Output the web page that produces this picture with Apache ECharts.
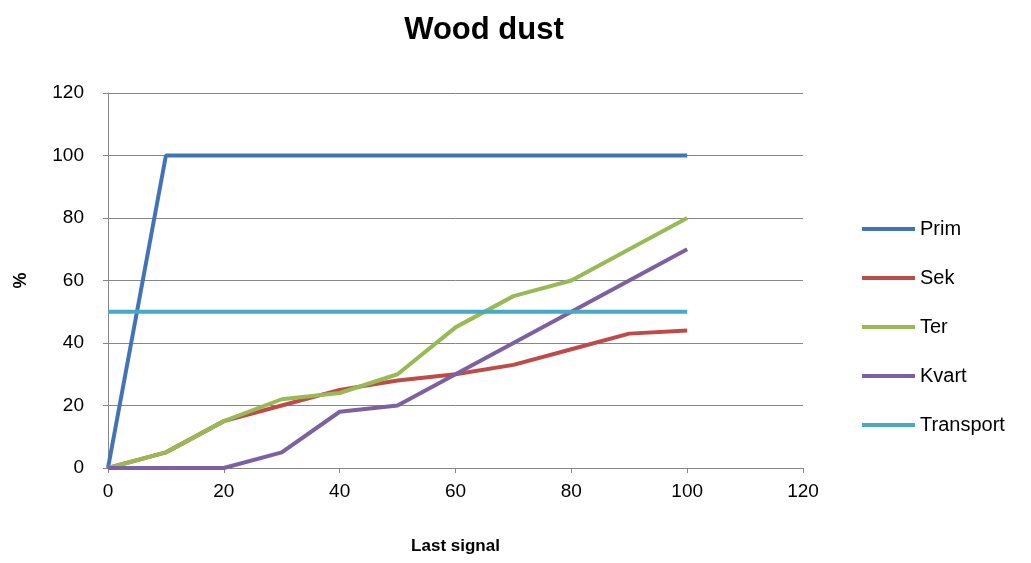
<!DOCTYPE html>
<html>
<head>
<meta charset="utf-8">
<script src="https://cdn.jsdelivr.net/npm/echarts@6/dist/echarts.min.js"></script>
<style>
  html, body { margin: 0; padding: 0; background: #fff; }
  #main { width: 1031px; height: 563px; }
</style>
</head>
<body>
<div id="main"></div>
<script>
// last signal (x) and share in % for each series
var xs = [0, 10, 20, 30, 40, 50, 60, 70, 80, 90, 100]
var seriesNames = ['Prim', 'Sek', 'Ter', 'Kvart', 'Transport']
var prim = [0, 100, 100, 100, 100, 100, 100, 100, 100, 100, 100]
var sek = [0, 5, 15, 20, 25, 28, 30, 33, 38, 43, 44]
var ter = [0, 5, 15, 22, 24, 30, 45, 55, 60, 70, 80]
var kvart = [0, 0, 0, 5, 18, 20, 30, 40, 50, 60, 70]
var transport = [50, 50, 50, 50, 50, 50, 50, 50, 50, 50, 50]
var colors = ['#4273b6', '#be4b48', '#98b954', '#7d60a0', '#46aac5']

function pairs(vals) {
  return xs.map(function (x, i) { return [x, vals[i]] })
}

var chart = echarts.init(document.getElementById('main'))
var font = '"Liberation Sans", Arial, sans-serif'

var allData = [prim, sek, ter, kvart, transport]
var series = seriesNames.map(function (name, i) {
  return {
    name: name,
    type: 'line',
    data: pairs(allData[i]),
    symbol: 'none',
    lineStyle: { width: 4, color: colors[i] },
    itemStyle: { color: colors[i] },
    animation: false
  }
})

chart.setOption({
  backgroundColor: '#fff',
  title: {
    text: 'Wood dust',
    left: 479,
    top: 10,
    textAlign: 'center',
    textStyle: { fontFamily: font, fontSize: 31, fontWeight: 'bold', color: '#000' }
  },
  legend: {
    orient: 'vertical',
    left: 857,
    top: 214,
    icon: 'rect',
    itemWidth: 53,
    itemHeight: 4,
    itemGap: 29,
    data: seriesNames,
    textStyle: { fontFamily: font, fontSize: 20, color: '#000', lineHeight: 20 }
  },
  grid: { left: 108, right: 228, top: 93, bottom: 95 },
  xAxis: {
    type: 'value',
    min: 0,
    max: 120,
    interval: 20,
    name: 'Last signal',
    nameLocation: 'middle',
    nameGap: 70,
    nameTextStyle: { fontFamily: font, fontSize: 17, fontWeight: 'bold', color: '#000' },
    axisLine: { lineStyle: { color: '#868686', width: 1 } },
    axisTick: { show: true, length: 5, lineStyle: { color: '#868686' } },
    axisLabel: { fontFamily: font, fontSize: 19, color: '#000', margin: 14 },
    splitLine: { show: false }
  },
  yAxis: {
    type: 'value',
    min: 0,
    max: 120,
    interval: 20,
    name: '%',
    nameLocation: 'middle',
    nameGap: 78,
    nameRotate: 90,
    nameTextStyle: { fontFamily: font, fontSize: 18, fontWeight: 'bold', color: '#000' },
    axisLine: { show: true, lineStyle: { color: '#868686', width: 1 } },
    axisTick: { show: true, length: 5, lineStyle: { color: '#868686' } },
    axisLabel: { fontFamily: font, fontSize: 19, color: '#000', margin: 24 },
    splitLine: { lineStyle: { color: '#868686', width: 1 } }
  },
  series: series
})
</script>
</body>
</html>
